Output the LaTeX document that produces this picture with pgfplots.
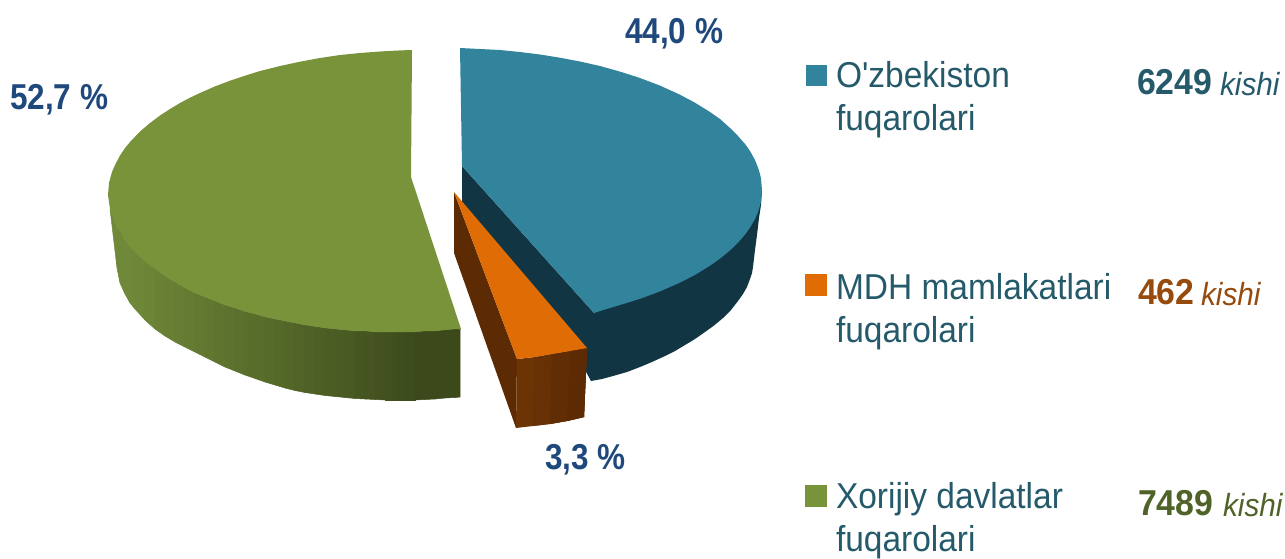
\documentclass[border=0pt]{standalone}
\usepackage{pgfplots}
\pgfplotsset{compat=1.18}
\usepackage{fontspec}
\setmainfont{Liberation Sans}
\newfontfamily\legf[FakeStretch=0.93]{Liberation Sans}
\newfontfamily\numf[FakeStretch=0.875]{Liberation Sans}
\newfontfamily\cntf[FakeStretch=0.94]{Liberation Sans}
\newfontfamily\itf[FakeStretch=0.93]{Liberation Sans}
\definecolor{cblue}{HTML}{32849D}
\definecolor{cdark}{HTML}{123543}
\definecolor{corange}{HTML}{E06C06}
\definecolor{cbrown}{HTML}{5C2A03}
\definecolor{cgreen}{HTML}{78933A}
\definecolor{ctext}{HTML}{255A6B}
\definecolor{cnum}{HTML}{1F497D}
\definecolor{cbn}{HTML}{964A0C}
\definecolor{cgn}{HTML}{4F6227}
\definecolor{of1}{HTML}{6C3405}
\definecolor{of2}{HTML}{673105}
\definecolor{of3}{HTML}{612D04}
\definecolor{of4}{HTML}{5C2A03}
\pgfplotstableread[row sep=crcr]{
x y\\
110 209\\ 117 268\\ 117 227.5\\ 110 209\\
117 227.5\\ 117 268\\ 120 283\\ 120 231\\
120 231\\ 120 283\\ 125 294\\ 125 240\\
125 240\\ 125 294\\ 130 303\\ 130 246.4\\
130 246.4\\ 130 303\\ 135 309\\ 135 252\\
135 252\\ 135 309\\ 145 320\\ 145 261\\
145 261\\ 145 320\\ 155 329\\ 155 269\\
155 269\\ 155 329\\ 165 336\\ 165 276\\
165 276\\ 165 336\\ 175 342\\ 175 282\\
175 282\\ 175 342\\ 185 347\\ 185 288\\
185 288\\ 185 347\\ 195 352\\ 195 293\\
195 293\\ 195 352\\ 205 357\\ 205 297\\
205 297\\ 205 357\\ 215 362\\ 215 301\\
215 301\\ 215 362\\ 225 367\\ 225 305\\
225 305\\ 225 367\\ 235 371\\ 235 308\\
235 308\\ 235 371\\ 245 375\\ 245 311.5\\
245 311.5\\ 245 375\\ 255 378.5\\ 255 314\\
255 314\\ 255 378.5\\ 265 382\\ 265 317\\
265 317\\ 265 382\\ 275 385\\ 275 319\\
275 319\\ 275 385\\ 285 388\\ 285 321\\
285 321\\ 285 388\\ 295 390.5\\ 295 323\\
295 323\\ 295 390.5\\ 305 392.5\\ 305 325\\
305 325\\ 305 392.5\\ 315 394\\ 315 326.5\\
315 326.5\\ 315 394\\ 325 395.5\\ 325 328\\
325 328\\ 325 395.5\\ 335 396.5\\ 335 329\\
335 329\\ 335 396.5\\ 345 397.5\\ 345 330\\
345 330\\ 345 397.5\\ 355 398.5\\ 355 331\\
355 331\\ 355 398.5\\ 365 399\\ 365 331\\
365 331\\ 365 399\\ 375 399.5\\ 375 332\\
375 332\\ 375 399.5\\ 385 400\\ 385 332\\
385 332\\ 385 400\\ 395 400\\ 395 332\\
395 332\\ 395 400\\ 405 400\\ 405 332\\
405 332\\ 405 400\\ 415 400\\ 415 332\\
415 332\\ 415 400\\ 425 399.5\\ 425 331\\
425 331\\ 425 399.5\\ 435 399\\ 435 331\\
435 331\\ 435 399\\ 445 398\\ 445 330\\
445 330\\ 445 398\\ 455 397.5\\ 455 329\\
455 329\\ 455 397.5\\ 460 397\\ 460 329\\
}\greenside
\begin{document}
\begin{tikzpicture}
\useasboundingbox (0,0) rectangle (1285pt,558pt);
\begin{axis}[at={(0,0)},anchor=south west,width=1285pt,height=558pt,scale only axis,hide axis,
  xmin=0,xmax=1285,ymin=0,ymax=558,y dir=reverse,enlargelimits=false,clip=false,
  colormap={gside}{rgb255=(112,137,57) rgb255=(60,74,27)},
  nodes={inner sep=0pt,outer sep=0pt}]
% green side
\addplot[patch,patch type=rectangle,shader=faceted,faceted color=mapped color,line width=0.5pt,colormap name=gside,point meta=x,point meta min=125,point meta max=420,forget plot] table[x=x,y=y]{\greenside};
% green top
\addplot[fill=cgreen,draw=none,forget plot] coordinates {(412,50)(411,177)(461,329)(455,329)(445,330)(435,331)(425,331)(415,332)(405,332)(395,332)(385,332)(375,332)(365,331)(355,331)(345,330)(335,329)(325,328)(315,326.5)(305,325)(295,323)(285,321)(275,319)(265,317)(255,314)(245,311.5)(235,308)(225,305)(215,301)(205,297)(195,293)(185,288)(175,282)(165,276)(155,269)(145,261)(135,252)(130,246.4)(125,240)(120,231)(117,227.5)(110,209)(108,195)(109,183)(110,179)(112,172)(115,165)(120,155.5)(125,148)(130,142)(140,131.5)(150,123)(160,115.5)(170,109)(180,103)(190,97.7)(200,93)(215,86.4)(230,80.7)(245,75.7)(260,71)(280,66)(300,61.7)(320,58)(340,55)(360,53)(380,51.5)(400,50.4)} -- cycle;
% blue side
\addplot[fill=cdark,draw=none,forget plot] coordinates {(462,166)(462,210)(585,370)(591,381)(602,379)(613,376)(627,372)(640,367)(652,362)(665,356)(675,351)(685,345)(695,339)(705,332)(714,325.5)(723,318)(731,310)(738,301)(743,294)(747,287)(750,279)(752,273)(753,267)(755,250)(757,235)(759,218)(761,205)(762,190)(600,250)(594,313)} -- cycle;
% blue top
\addplot[fill=cblue,draw=none,forget plot] coordinates {(460,48)(480,49)(500,50)(520,52)(540,54.5)(560,57.7)(580,61.5)(600,66)(620,71.6)(640,78)(660,85.6)(680,94.7)(695,102.7)(710,112)(720,119)(730,128)(738,136)(745,144)(750,151)(755,160)(758,167.6)(760,174)(761,178.6)(762,190)(761,201)(760,205.5)(758,212)(755,219)(750,227.6)(745,234.6)(738,242.7)(730,250.4)(720,258.6)(710,265.7)(695,274.9)(680,282.6)(660,291.4)(640,298.8)(620,305)(600,311)(594,313)(462,166)} -- cycle;
% orange
\addplot[fill=cbrown,draw=none,forget plot] coordinates {(454,192)(517,359)(516,428)(454,253)} -- cycle;
\addplot[fill=of1,draw=none,forget plot] coordinates {(517,359)(535,357)(552,354)(570,351)(587,348)(584,417)(567,421)(550,424)(533,426)(516,428)} -- cycle;
\addplot[fill=of2,draw=none,forget plot] coordinates {(535,357)(552,354)(570,351)(587,348)(584,417)(567,421)(550,424)(533,426)} -- cycle;
\addplot[fill=of3,draw=none,forget plot] coordinates {(552,354)(570,351)(587,348)(584,417)(567,421)(550,424)} -- cycle;
\addplot[fill=of4,draw=none,forget plot] coordinates {(570,351)(587,348)(584,417)(567,421)} -- cycle;
\addplot[fill=corange,draw=none,forget plot] coordinates {(454,192)(587,348)(570,351)(552,354)(535,357)(517,359)} -- cycle;
% legend swatches
\addplot[fill=cblue,draw=none,forget plot] coordinates {(806,65)(827,65)(827,86)(806,86)} -- cycle;
\addplot[fill=corange,draw=none,forget plot] coordinates {(805,274)(827,274)(827,296)(805,296)} -- cycle;
\addplot[fill=cgreen,draw=none,forget plot] coordinates {(805,485)(827,485)(827,507)(805,507)} -- cycle;
% percent labels
\node[anchor=base west,text=cnum,font=\numf\bfseries\fontsize{36}{36}\selectfont] at (axis cs:625,43.5) {44,0 \%};
\node[anchor=base west,text=cnum,font=\numf\bfseries\fontsize{36}{36}\selectfont] at (axis cs:10,109) {52,7 \%};
\node[anchor=base west,text=cnum,font=\numf\bfseries\fontsize{36}{36}\selectfont] at (axis cs:545,469) {3,3 \%};
% legend text
\def\lg#1#2{\node[anchor=base west,text=ctext,font=\legf\fontsize{36}{36}\selectfont] at (axis cs:836,#2) {#1};}
\lg{O'zbekiston}{87}
\lg{fuqarolari}{130}
\lg{MDH mamlakatlari}{299}
\lg{fuqarolari}{342}
\lg{Xorijiy davlatlar}{508}
\lg{fuqarolari}{551}
% counts
\node[anchor=base west,text=ctext,font=\cntf\bfseries\fontsize{36}{36}\selectfont] at (axis cs:1137,94) {6249};
\node[anchor=base west,text=ctext,font=\itf\itshape\fontsize{32}{32}\selectfont] at (axis cs:1220,95) {kishi};
\node[anchor=base west,text=cbn,font=\cntf\bfseries\fontsize{36}{36}\selectfont] at (axis cs:1138,304) {462};
\node[anchor=base west,text=cbn,font=\itf\itshape\fontsize{32}{32}\selectfont] at (axis cs:1201,305) {kishi};
\node[anchor=base west,text=cgn,font=\cntf\bfseries\fontsize{36}{36}\selectfont] at (axis cs:1138,515) {7489};
\node[anchor=base west,text=cgn,font=\itf\itshape\fontsize{32}{32}\selectfont] at (axis cs:1223,516) {kishi};
\end{axis}
\end{tikzpicture}
\end{document}
